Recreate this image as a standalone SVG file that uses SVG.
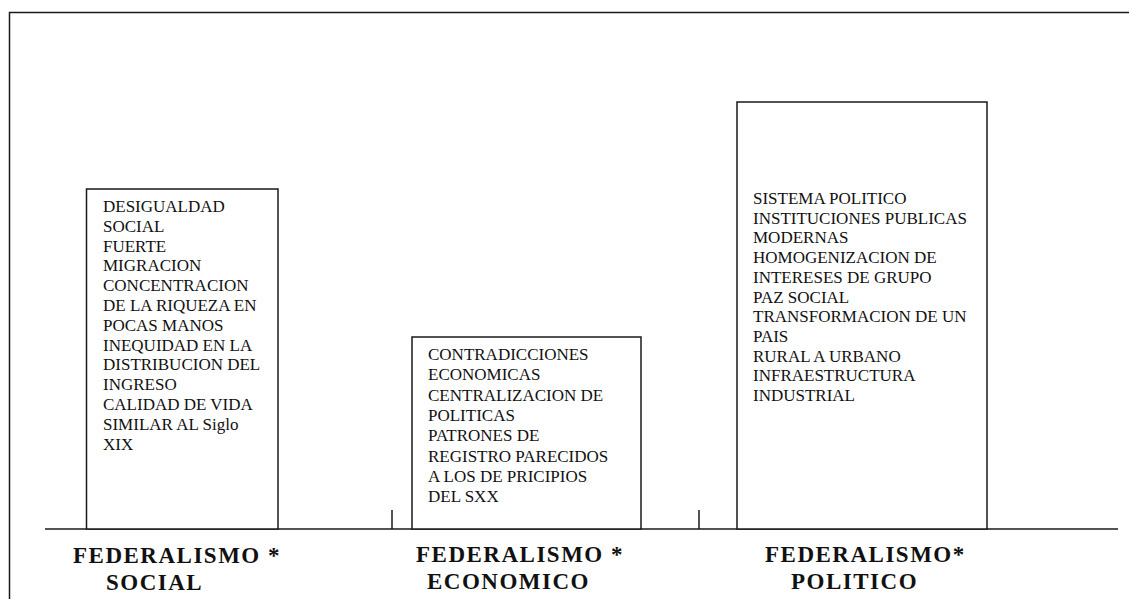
<svg xmlns="http://www.w3.org/2000/svg" width="1129" height="599" viewBox="0 0 1129 599">
<style>
.ln{stroke:#1a1a1a;stroke-width:1.5;fill:none}
.box{stroke:#1a1a1a;stroke-width:1.5;fill:#fff}
.t{font-size:17px;fill:#111}
.lbl{font-size:23px;font-weight:bold;letter-spacing:1.5px;fill:#111}
</style>
<rect x="0" y="0" width="1129" height="599" fill="#fff"/>
<g id="frame">
<path class="ln" d="M9.5 599 V12.5 H1129"/>
</g>
<g id="connectors">
<path class="ln" d="M45 529 H1118"/>
<path class="ln" d="M392 510 V529 M699 510 V529"/>
</g>
<g font-family="Liberation Serif, Tinos, Times New Roman, DejaVu Serif, serif">
<g id="social">
<rect class="box" x="86.5" y="189" width="191.5" height="340"/>
<text class="t">
<tspan x="103" y="212">DESIGUALDAD</tspan>
<tspan x="103" y="231.8">SOCIAL</tspan>
<tspan x="103" y="251.6">FUERTE</tspan>
<tspan x="103" y="271.4">MIGRACION</tspan>
<tspan x="103" y="291.2">CONCENTRACION</tspan>
<tspan x="103" y="311">DE LA RIQUEZA EN</tspan>
<tspan x="103" y="330.8">POCAS MANOS</tspan>
<tspan x="103" y="350.6">INEQUIDAD EN LA</tspan>
<tspan x="103" y="370.4">DISTRIBUCION DEL</tspan>
<tspan x="103" y="390.2">INGRESO</tspan>
<tspan x="103" y="410">CALIDAD DE VIDA</tspan>
<tspan x="103" y="429.8">SIMILAR AL Siglo</tspan>
<tspan x="103" y="449.6">XIX</tspan>
</text>
<text class="lbl" x="73" y="563">FEDERALISMO *</text>
<text class="lbl" x="106" y="590">SOCIAL</text>
</g>
<g id="economico">
<rect class="box" x="412" y="337" width="229" height="192"/>
<text class="t">
<tspan x="428" y="360">CONTRADICCIONES</tspan>
<tspan x="428" y="380.3">ECONOMICAS</tspan>
<tspan x="428" y="400.6">CENTRALIZACION DE</tspan>
<tspan x="428" y="420.9">POLITICAS</tspan>
<tspan x="428" y="441.2">PATRONES DE</tspan>
<tspan x="428" y="461.5">REGISTRO PARECIDOS</tspan>
<tspan x="428" y="481.8">A LOS DE PRICIPIOS</tspan>
<tspan x="428" y="502">DEL SXX</tspan>
</text>
<text class="lbl" x="416" y="562">FEDERALISMO *</text>
<text class="lbl" x="427" y="589">ECONOMICO</text>
</g>
<g id="politico">
<rect class="box" x="737" y="102" width="250" height="427"/>
<text class="t">
<tspan x="753" y="204">SISTEMA POLITICO</tspan>
<tspan x="753" y="223.7">INSTITUCIONES PUBLICAS</tspan>
<tspan x="753" y="243.4">MODERNAS</tspan>
<tspan x="753" y="263.1">HOMOGENIZACION DE</tspan>
<tspan x="753" y="282.8">INTERESES DE GRUPO</tspan>
<tspan x="753" y="302.5">PAZ SOCIAL</tspan>
<tspan x="753" y="322.2">TRANSFORMACION DE UN</tspan>
<tspan x="753" y="341.9">PAIS</tspan>
<tspan x="753" y="361.6">RURAL A URBANO</tspan>
<tspan x="753" y="381.3">INFRAESTRUCTURA</tspan>
<tspan x="753" y="401">INDUSTRIAL</tspan>
</text>
<text class="lbl" x="765" y="562">FEDERALISMO*</text>
<text class="lbl" x="791" y="589">POLITICO</text>
</g>
</g>
</svg>
